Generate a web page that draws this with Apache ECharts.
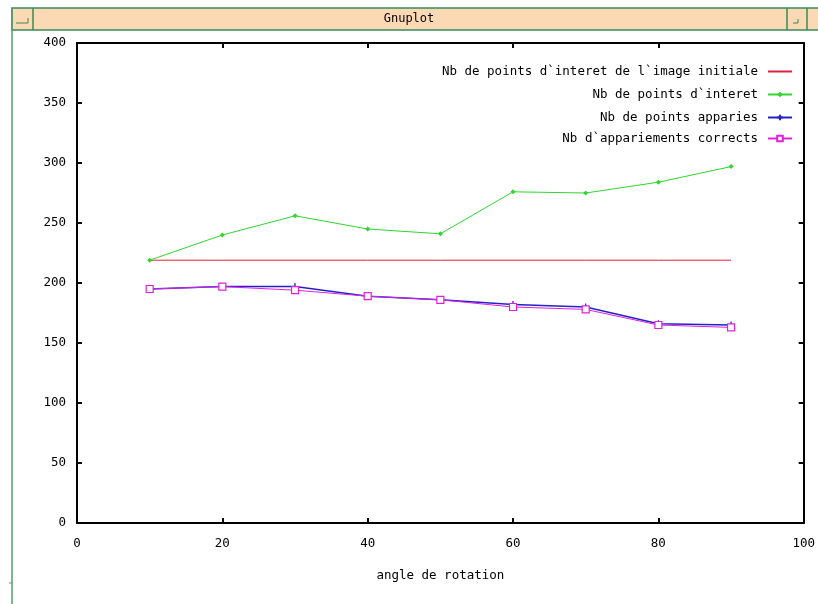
<!DOCTYPE html>
<html>
<head>
<meta charset="utf-8">
<script src="https://cdn.jsdelivr.net/npm/echarts@6/dist/echarts.min.js"></script>
<style>html,body{margin:0;padding:0;background:#fff;}#c{width:818px;height:604px;}</style>
</head>
<body>
<div id="c"></div>
<script>
const angles = [10, 20, 30, 40, 50, 60, 70, 80, 90];
const initialPoints = [219, 219, 219, 219, 219, 219, 219, 219, 219];
const interestPoints = [219, 240, 256, 245, 241, 276, 275, 284, 297];
const matchedPoints = [195, 197, 197, 189, 186, 182, 180, 166, 165];
const correctMatches = [195, 197, 194, 189, 186, 180, 178, 165, 163];
const seriesNames = [
  "Nb de points d`interet de l`image initiale",
  "Nb de points d`interet",
  "Nb de points apparies",
  "Nb d`appariements corrects"
];
const xTicks = [0, 20, 40, 60, 80, 100];
const yTicks = [0, 50, 100, 150, 200, 250, 300, 350, 400];

const FONT = '"DejaVu Sans Mono", "Liberation Mono", monospace';
const COLORS = ['#e0203c', '#2ed62e', '#2222c8', '#e020e0'];
const pair = ys => angles.map((a, i) => [a, ys[i]]);
const plusPath = 'path://M5,0L5,10M0,5L10,5';

const chart = echarts.init(document.getElementById('c'), null, {renderer: 'canvas'});
const legendTops = [65, 88, 111, 132];
const legends = seriesNames.map((n, i) => ({
  data: [i === 0 ? {name: n, itemStyle: {color: 'transparent', borderColor: 'transparent'}} : {name: n}],
  right: 25, top: legendTops[i], align: 'right', itemWidth: 24, itemHeight: 7,
  itemGap: 0, selectedMode: false,
  textStyle: {fontFamily: FONT, fontSize: 12.5, color: '#000', padding: [0, 5, 0, 0]},
  padding: 0
}));

const axisCommon = {
  axisLine: {show: true, onZero: false, lineStyle: {color: '#000', width: 2}},
  axisTick: {show: true, inside: true, length: 5, lineStyle: {color: '#000', width: 2}},
  splitLine: {show: false}
};

chart.setOption({
  animation: false,
  backgroundColor: '#fff',
  grid: {left: 77, right: 12, top: 43, bottom: 81, containLabel: false},
  legend: legends,
  xAxis: [
    Object.assign({type: 'value', min: 0, max: 100, interval: 20, position: 'bottom',
      name: 'angle de rotation', nameLocation: 'middle', nameGap: 46,
      nameTextStyle: {fontFamily: FONT, fontSize: 12.5, color: '#000'},
      axisLabel: {fontFamily: FONT, fontSize: 12.5, color: '#000', margin: 14,
        formatter: v => xTicks.includes(v) ? String(v) : ''}}, axisCommon),
    Object.assign({type: 'value', min: 0, max: 100, interval: 20, position: 'top',
      axisLabel: {show: false}}, axisCommon)
  ],
  yAxis: [
    Object.assign({type: 'value', min: 0, max: 400, interval: 50, position: 'left',
      axisLabel: {fontFamily: FONT, fontSize: 12.5, color: '#000', margin: 11,
        formatter: v => yTicks.includes(v) ? String(v) : ''}}, axisCommon),
    Object.assign({type: 'value', min: 0, max: 400, interval: 50, position: 'right',
      axisLabel: {show: false}}, axisCommon)
  ],
  series: [
    {name: seriesNames[0], type: 'line', data: pair(initialPoints), showSymbol: false, symbol: 'none',
      lineStyle: {color: COLORS[0], width: 1}, itemStyle: {color: COLORS[0]}},
    {name: seriesNames[1], type: 'line', data: pair(interestPoints), symbol: 'diamond', symbolSize: 5,
      lineStyle: {color: COLORS[1], width: 1}, itemStyle: {color: COLORS[1]}},
    {name: seriesNames[2], type: 'line', data: pair(matchedPoints), symbol: plusPath, symbolSize: 7,
      lineStyle: {color: COLORS[2], width: 1.5},
      itemStyle: {color: 'none', borderColor: COLORS[2], borderWidth: 1.3}},
    {name: seriesNames[3], type: 'line', data: pair(correctMatches), symbol: 'rect', symbolSize: 7,
      lineStyle: {color: COLORS[3], width: 1},
      itemStyle: {color: '#fff', borderColor: COLORS[3], borderWidth: 1.2}}
  ],
  graphic: [
    {type: 'rect', shape: {x: 12, y: 8, width: 808, height: 22}, style: {fill: '#fcd9b5', stroke: '#3a8a55', lineWidth: 1.5}, silent: true},
    {type: 'line', shape: {x1: 33, y1: 8, x2: 33, y2: 30}, style: {stroke: '#3a8a55', lineWidth: 1.5}},
    {type: 'line', shape: {x1: 787, y1: 8, x2: 787, y2: 30}, style: {stroke: '#3a8a55', lineWidth: 1.5}},
    {type: 'line', shape: {x1: 807, y1: 8, x2: 807, y2: 30}, style: {stroke: '#3a8a55', lineWidth: 1.5}},
    {type: 'line', shape: {x1: 12, y1: 8, x2: 12, y2: 604}, style: {stroke: '#5a9a6a', lineWidth: 1.5}},
    {type: 'line', shape: {x1: 9, y1: 583, x2: 12, y2: 583}, style: {stroke: '#5a9a6a', lineWidth: 1}},
    {type: 'polyline', shape: {points: [[16, 23], [28, 23], [28, 18]]}, style: {stroke: '#3a8a55', lineWidth: 1, fill: null}},
    {type: 'polyline', shape: {points: [[793, 23], [798, 23], [798, 19]]}, style: {stroke: '#3a8a55', lineWidth: 1, fill: null}},
    {type: 'text', left: 'center', top: 13, style: {text: 'Gnuplot', font: '12px ' + FONT, fill: '#000'}}
  ]
});
</script>
</body>
</html>
